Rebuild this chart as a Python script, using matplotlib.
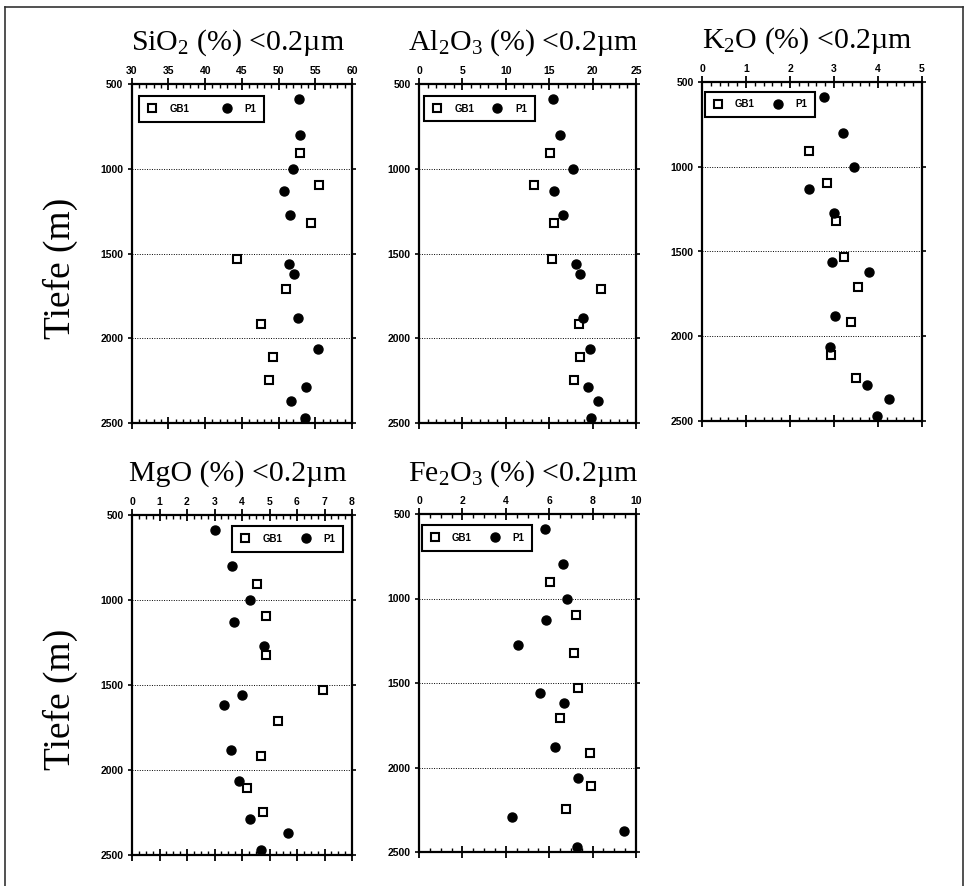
"""
plot.py - Depth profiles of clay fraction (<0.2 µm) oxides, GB1 vs P1.

Five panels: SiO2, Al2O3, K2O, MgO, Fe2O3 against depth (Tiefe, m).
Output: out.png
"""

# === DECLARE IMPORTS ===

import matplotlib

matplotlib.use("Agg")

import matplotlib.pyplot as plt
from matplotlib.lines import Line2D
from matplotlib.ticker import AutoMinorLocator, MultipleLocator

# === DATA ===

GB1_DEPTH = [905, 1095, 1322, 1530, 1710, 1915, 2108, 2245]
P1_DEPTH = [588, 798, 1002, 1130, 1273, 1560, 1618, 1880, 2062, 2290, 2373, 2472]

SIO2_GB1 = [52.9, 55.5, 54.4, 44.3, 51.0, 47.6, 49.3, 48.7]
SIO2_P1 = [52.8, 52.9, 51.9, 50.8, 51.5, 51.4, 52.1, 52.6, 55.4, 53.8, 51.7, 53.6]

AL2O3_GB1 = [15.05, 13.3, 15.6, 15.3, 20.97, 18.4, 18.5, 17.8]
AL2O3_P1 = [15.47, 16.2, 17.7, 15.55, 16.6, 18.05, 18.55, 18.85, 19.7, 19.5, 20.6, 19.8]

K2O_GB1 = [2.43, 2.83, 3.05, 3.23, 3.54, 3.39, 2.93, 3.49]
K2O_P1 = [2.77, 3.2, 3.45, 2.44, 2.99, 2.95, 3.8, 3.02, 2.91, 3.74, 4.25, 3.97]

MGO_GB1 = [4.56, 4.86, 4.86, 6.93, 5.3, 4.68, 4.17, 4.77]
MGO_P1 = [3.0, 3.64, 4.28, 3.72, 4.8, 4.0, 3.33, 3.6, 3.88, 4.28, 5.68, 4.69]

FE2O3_GB1 = [6.04, 7.22, 7.16, 7.31, 6.5, 7.87, 7.91, 6.76]
FE2O3_P1 = [5.82, 6.65, 6.8, 5.85, 4.55, 5.58, 6.67, 6.27, 7.33, 4.27, 9.45, 7.27]

TITLES = [
    "SiO$_2$ (%) <0.2µm",
    "Al$_2$O$_3$ (%) <0.2µm",
    "K$_2$O (%) <0.2µm",
    "MgO (%) <0.2µm",
    "Fe$_2$O$_3$ (%) <0.2µm",
]
DEPTH_TICKS = [500, 1000, 1500, 2000, 2500]

# === LAYOUT ===

FIG_W, FIG_H = 971, 886
SERIF = "Liberation Serif"
SANS = "Liberation Sans"

plt.rcParams["mathtext.fontset"] = "custom"
plt.rcParams["mathtext.rm"] = SERIF
plt.rcParams["mathtext.it"] = SERIF + ":italic"


def px_box(left, top, right, bottom):
    """Pixel box -> figure-fraction [x0, y0, w, h]."""
    return [left / FIG_W, 1 - bottom / FIG_H, (right - left) / FIG_W, (bottom - top) / FIG_H]


PANELS = [
    # title, gb1, p1, xlim, major, minor, box, legend anchor, legend loc, column spacing
    (TITLES[0], SIO2_GB1, SIO2_P1, (30, 60), 5, 5, px_box(131.7, 84, 352, 423), (0.02, 0.973), "upper left", 3.4),
    (TITLES[1], AL2O3_GB1, AL2O3_P1, (0, 25), 5, 5, px_box(419, 84, 636, 423), (0.01, 0.974), "upper left", 1.9),
    (TITLES[2], K2O_GB1, K2O_P1, (0, 5), 1, 5, px_box(702, 82, 922, 421), (0.00, 0.980), "upper left", 1.9),
    (TITLES[3], MGO_GB1, MGO_P1, (0, 8), 1, 4, px_box(132, 515, 352, 855), (0.972, 0.976), "upper right", 1.9),
    (TITLES[4], FE2O3_GB1, FE2O3_P1, (0, 10), 2, 4, px_box(419, 514, 636, 852), (0.00, 0.976), "upper left", 1.9),
]


def main() -> None:
    fig = plt.figure(figsize=(FIG_W / 100, FIG_H / 100), dpi=100)

    # outer frame (left, top, right)
    fx0, fx1, fy1 = 5 / FIG_W, 963 / FIG_W, 1 - 7 / FIG_H
    for xs, ys in [([fx0, fx0], [0, fy1]), ([fx0, fx1], [fy1, fy1]), ([fx1, fx1], [fy1, 0])]:
        fig.add_artist(Line2D(xs, ys, color="#333333", lw=1.2, transform=fig.transFigure))

    for title, gb1, p1, xlim, major, minor, box, anchor, loc, colsp in PANELS:
        ax = fig.add_axes(box)
        ax.set_xlim(*xlim)
        ax.set_ylim(2500, 500)

        ax.plot(gb1, GB1_DEPTH, linestyle="none", marker="s", markersize=5.5,
                markerfacecolor="white", markeredgecolor="black", markeredgewidth=1.5,
                label="GB1", clip_on=False, zorder=5)
        ax.plot(p1, P1_DEPTH, linestyle="none", marker="o", markersize=6.5,
                color="black", label="P1", clip_on=False, zorder=6)

        # dotted depth grid
        ax.set_yticks(DEPTH_TICKS)
        ax.grid(axis="y", linestyle=(0, (1, 1.5)), color="black", linewidth=0.7)

        for side in ["top", "bottom", "left", "right"]:
            ax.spines[side].set_linewidth(1.6)

        ax.xaxis.set_major_locator(MultipleLocator(major))
        ax.xaxis.set_minor_locator(AutoMinorLocator(minor))
        ax.tick_params(axis="x", which="major", direction="inout", length=9, width=1.3,
                       top=True, bottom=True, labeltop=True, labelbottom=False, pad=1)
        ax.tick_params(axis="x", which="minor", direction="in", length=3, width=1.0,
                       top=True, bottom=True)
        ax.tick_params(axis="y", which="major", direction="out", length=3, width=1.2,
                       left=True, right=True, labelleft=True, pad=3)
        for lab in ax.get_xticklabels() + ax.get_yticklabels():
            lab.set_fontfamily(SANS)
            lab.set_fontweight("bold")
            lab.set_fontsize(7.5)

        ax.text(0.48, 1.10, title, transform=ax.transAxes, ha="center", va="baseline",
                fontsize=21.5, family=SERIF)

        leg = ax.legend(loc=loc, bbox_to_anchor=anchor, ncol=2, frameon=True,
                        fancybox=False, edgecolor="black", framealpha=1,
                        prop={"family": SANS, "weight": "bold", "size": 7},
                        handletextpad=1.3, columnspacing=colsp, borderpad=0.8,
                        borderaxespad=0.3, handlelength=1.0)
        leg.get_frame().set_linewidth(1.5)

    # y-axis labels
    for ycen in [268, 699]:
        fig.text(60 / FIG_W, 1 - ycen / FIG_H, "Tiefe (m)", rotation=90, ha="center",
                 va="center", fontsize=27, family=SERIF)

    fig.savefig("out.png", dpi=100)
    plt.close(fig)


if __name__ == "__main__":
    main()
